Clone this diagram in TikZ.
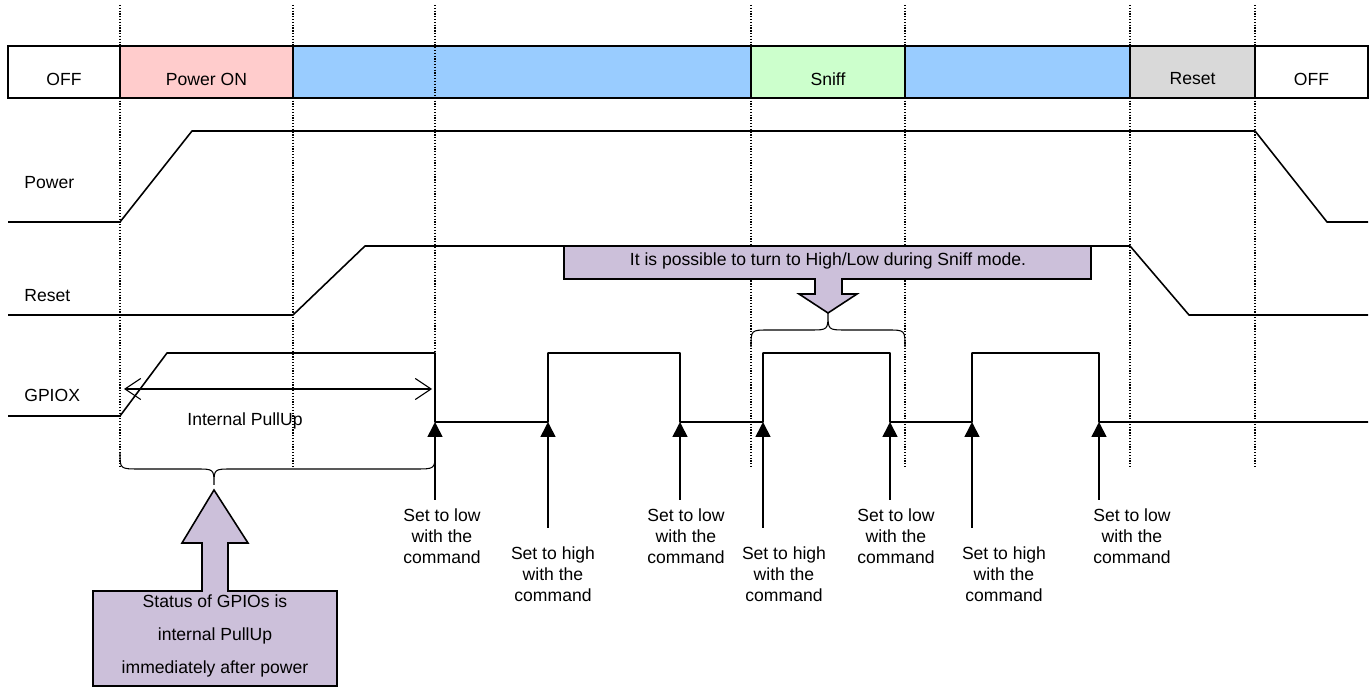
\documentclass[tikz,border=0pt]{standalone}
\usepackage{fontspec}
\setmainfont{Liberation Sans}
\usetikzlibrary{arrows.meta}

\definecolor{pwron}{HTML}{FFCCCC}
\definecolor{active}{HTML}{99CCFF}
\definecolor{sniff}{HTML}{CCFFCC}
\definecolor{rst}{HTML}{D9D9D9}
\definecolor{callout}{HTML}{CCC0DA}

\begin{document}
\begin{tikzpicture}[x=0.02cm, y=-0.02cm,
		sig/.style={line width=0.9pt, line join=round},
		guide/.style={dash pattern=on 0.7pt off 0.9pt, line width=0.7pt},
		phasebox/.style={draw, line width=0.9pt},
		note/.style={draw, line width=0.9pt, fill=callout},
		lbl/.style={inner sep=0pt, font=\fontsize{10}{12}\selectfont},
		cmd/.style={inner sep=0pt, align=center, font=\fontsize{10}{12}\selectfont},
		cmdarrow/.style={line width=0.9pt, -{Triangle[length=8.5pt, width=8.5pt]}}]
		\useasboundingbox (0,0) rectangle (1372,688);

		% phases
		\foreach \xa/\xb/\col/\txt [count=\i] in {8/120/white/OFF, 120/293/pwron/Power ON, 293/751/active/, 751/905/sniff/Sniff, 905/1130/active/, 1130/1255/rst/Reset, 1255/1368/white/OFF}
		{
			\draw [phasebox, fill=\col] (\xa,46) rectangle (\xb,98);
			\node (phase\i) [lbl] at ({(\xa+\xb)/2},79) {\txt};
		}

		\foreach \x in {120,293,435,751,905,1130,1255}
		{
			\draw [guide] (\x,5) -- (\x,467);
		}

		% signals
		\node (power) [lbl, anchor=west] at (24,183) {Power};
		\node (reset) [lbl, anchor=west] at (24,296) {Reset};
		\node (gpiox) [lbl, anchor=west] at (24,395) {GPIOX};

		\draw [sig] (8,222) -- (120,222) -- (192,131) -- (1255,131) -- (1327,222) -- (1368,222);
		\draw [sig] (8,315) -- (293,315) -- (365,246) -- (1130,246) -- (1189,315) -- (1368,315);
		\draw [sig] (8,416) -- (120,416) -- (167,353) -- (435,353) -- (435,422) -- (548,422) -- (548,353)
			-- (680,353) -- (680,422) -- (763,422) -- (763,353) -- (890,353) -- (890,422) -- (972,422)
			-- (972,353) -- (1099,353) -- (1099,422) -- (1368,422);

		% internal pull-up
		\coordinate (pullL) at (124,389);
		\coordinate (pullR) at (432,389);
		\draw [line width=0.6pt, {Straight Barb[length=9pt, width=12pt]}-{Straight Barb[length=9pt, width=12pt]}] (pullL) -- (pullR);
		\node (pullup) [lbl] at (245,421) {Internal PullUp};

		% commands
		\foreach \x/\yb/\lx/\ly/\kind [count=\i] in {435/500/442/536/low, 548/528/553/574/high, 680/500/686/536/low, 763/528/784/574/high, 890/500/896/536/low, 972/528/1004/574/high, 1099/500/1132/536/low}
		{
			\coordinate (foot\i) at (\x,\yb);
			\coordinate (tip\i) at (\x,422);
			\draw [cmdarrow] (foot\i) -- (tip\i);
			\node (cmd\i) [cmd] at (\lx,\ly) {Set to \kind\\with the\\command};
		}

		% braces
		\draw [line width=0.6pt] (120,453) .. controls (120,469) and (120,469) .. (140,469) -- (196,469)
			.. controls (214,469) and (214,469) .. (214,485) .. controls (214,469) and (214,469) .. (232,469)
			-- (415,469) .. controls (435,469) and (435,469) .. (435,453);
		\draw [line width=0.6pt] (751,347) .. controls (751,330) and (751,330) .. (769,330) -- (810,330)
			.. controls (828,330) and (828,330) .. (828,313) .. controls (828,330) and (828,330) .. (846,330)
			-- (887,330) .. controls (905,330) and (905,330) .. (905,347);

		% notes
		\draw [note] (564,246) -- (1091,246) -- (1091,279) -- (842,279) -- (842,294) -- (857,294) -- (828,313)
			-- (799,294) -- (815,294) -- (815,279) -- (564,279) -- cycle;
		\node (sniffnote) [lbl] at (828,261) {It is possible to turn to High/Low during Sniff mode.};

		\draw [note] (93,686) -- (93,591) -- (202,591) -- (202,543) -- (182,543) -- (214,490) -- (248,543)
			-- (228,543) -- (228,591) -- (337,591) -- (337,686) -- cycle;
		\node (statusnote) [cmd, font=\fontsize{10}{18.8}\selectfont] at (215,636) {Status of GPIOs is\\internal PullUp\\immediately after power};
	\end{tikzpicture}
\end{document}
